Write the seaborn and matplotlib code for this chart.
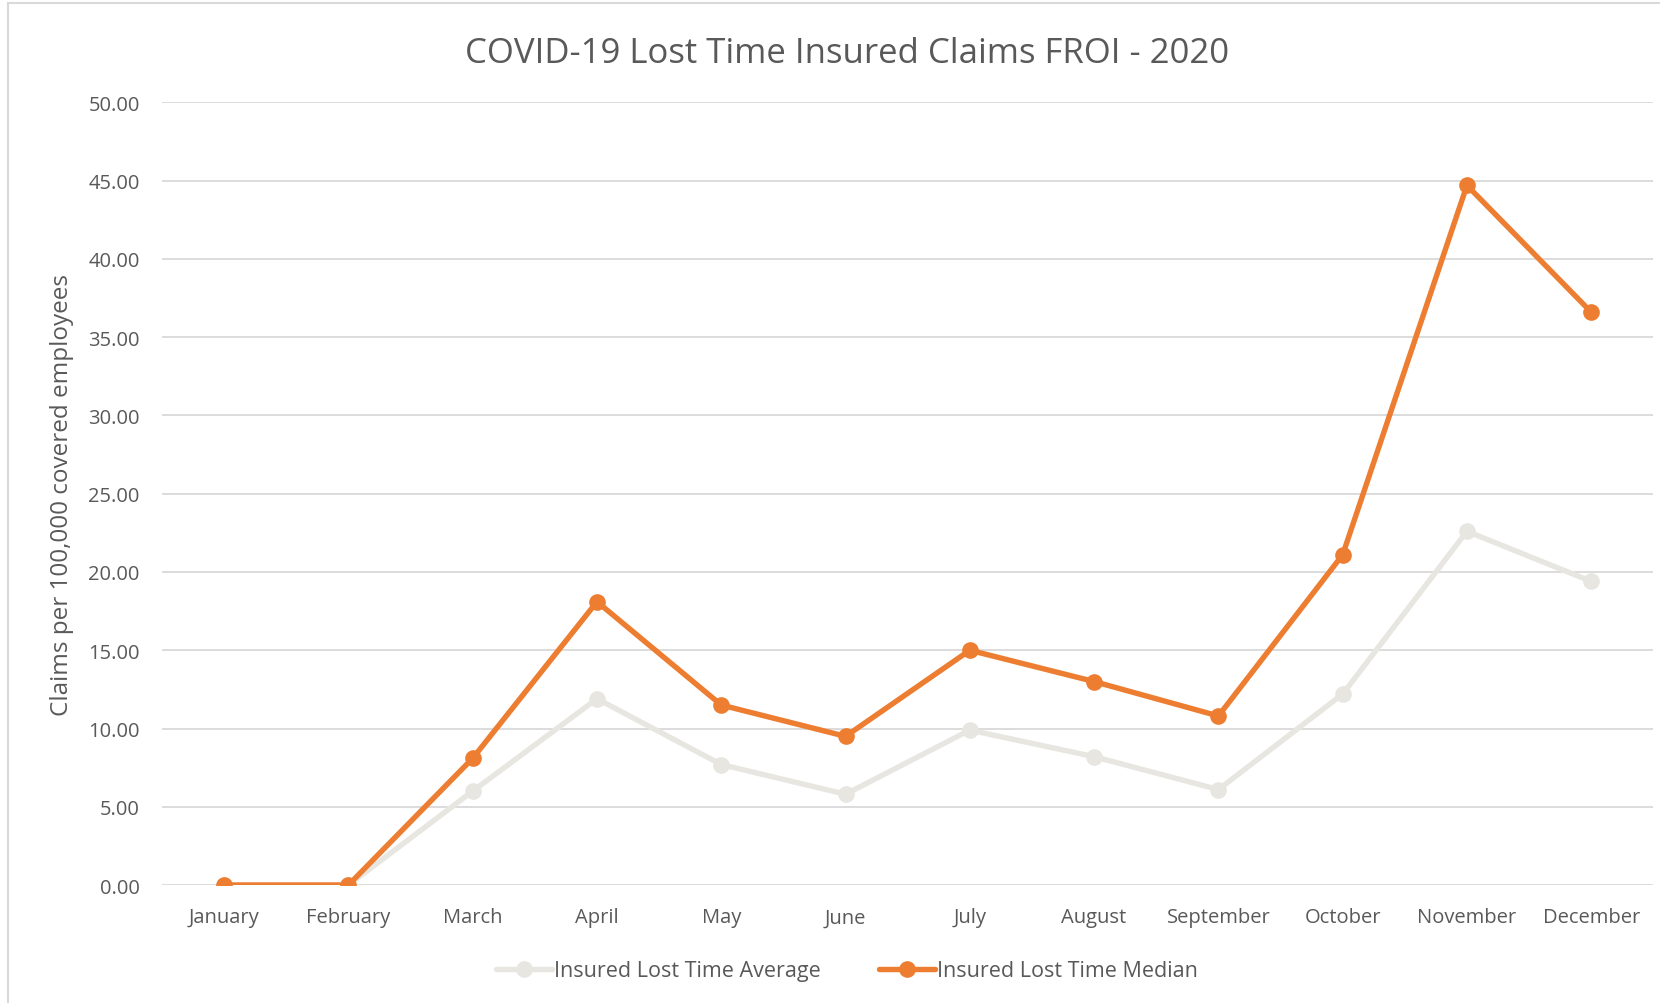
import numpy as np
import pandas as pd
import matplotlib.pyplot as plt
import seaborn as sns
from matplotlib.lines import Line2D

# -----------------------------
# data
# -----------------------------
months = ["January", "February", "March", "April", "May", "June", "July",
          "August", "September", "October", "November", "December"]
avg_vals = [0.0, 0.0, 6.0, 11.9, 7.7, 5.8, 9.9, 8.2, 6.1, 12.2, 22.6, 19.4]
median_vals = [0.0, 0.0, 8.1, 18.1, 11.5, 9.5, 15.0, 13.0, 10.8, 21.1, 44.7, 36.6]
series_names = ["Insured Lost Time Average", "Insured Lost Time Median"]
yticks = [0, 5, 10, 15, 20, 25, 30, 35, 40, 45, 50]

df = pd.DataFrame({
    "month": months * 2,
    "pos": list(range(len(months))) * 2,
    "value": avg_vals + median_vals,
    "series": [series_names[0]] * len(months) + [series_names[1]] * len(months),
})

# -----------------------------
# style
# -----------------------------
sns.set_theme(style="white")
plt.rcParams["font.family"] = ["Open Sans", "DejaVu Sans"]
text_col = "#595959"
palette = {series_names[0]: "#E7E6E1", series_names[1]: "#ED7D31"}

fig = plt.figure(figsize=(16.6, 10.04), dpi=100)
ax = fig.add_axes([0.0976, 0.1175, 0.8984, 0.7795])

sns.lineplot(data=df, x="pos", y="value", hue="series", hue_order=series_names,
             palette=palette, linewidth=3.9, marker="o", markersize=12,
             markeredgewidth=0, legend=False, ax=ax)

# axes
ax.set_xlim(-0.5, len(months) - 0.5)
ax.set_ylim(0, 50)
ax.set_xticks(range(len(months)))
ax.set_xticklabels(months)
ax.set_yticks(yticks)
ax.set_yticklabels([f"{v:.2f}" for v in yticks])
ax.tick_params(axis="both", colors=text_col, labelsize=14.5, length=0)
ax.tick_params(axis="x", pad=16)
ax.tick_params(axis="y", pad=16)
ax.grid(axis="y", color="#D9D9D9", linewidth=1.3)
ax.set_axisbelow(True)
for s in ax.spines.values():
    s.set_visible(False)
ax.set_xlabel("")
ax.set_ylabel("Claims per 100,000 covered employees", color=text_col,
              fontsize=17.5, labelpad=10)

fig.suptitle("COVID-19 Lost Time Insured Claims FROI - 2020", x=0.51, y=0.963,
             color=text_col, fontsize=25)

# legend
handles = [Line2D([], [], color=palette[n], linewidth=3.9, marker="o",
                  markersize=12, markeredgewidth=0) for n in series_names]
fig.legend(handles, series_names, loc="center", bbox_to_anchor=(0.51, 0.032),
           ncol=2, frameon=False, fontsize=15.5, labelcolor=text_col,
           handlelength=2.6, handletextpad=0.1, columnspacing=2.7)

# chart border (top and left)
fig.add_artist(Line2D([0.005, 1.0], [0.996, 0.996], transform=fig.transFigure,
                      color="#D9D9D9", linewidth=1.5))
fig.add_artist(Line2D([0.005, 0.005], [0.0, 0.996], transform=fig.transFigure,
                      color="#D9D9D9", linewidth=1.5))

fig.savefig("out.png", dpi=100, facecolor="white")
